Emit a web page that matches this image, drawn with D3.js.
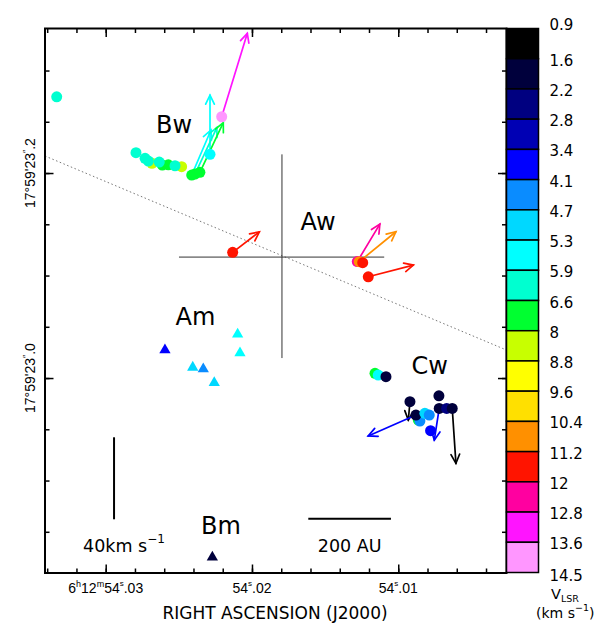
<!DOCTYPE html>
<html><head><meta charset="utf-8">
<script src="https://cdn.jsdelivr.net/npm/d3@7"></script>
<style>
body{margin:0;background:#fff}
svg{display:block}
text{font-family:"DejaVu Sans",sans-serif;fill:#000}
.tick text{display:none}
</style>
</head><body>
<svg id="chart" width="598" height="625"></svg>
<script>
// ---------------- DATA ----------------
// colour bar: V_LSR bin edges (km/s) and bin colours
const binEdges = [0.9,1.6,2.2,2.8,3.4,4.1,4.7,5.3,5.9,6.6,8,8.8,9.6,10.4,11.2,12,12.8,13.6,14.5];
const binColors = ["#000000","#00003c","#000080","#0000b4","#0000ff","#0a8cff","#00d8ff","#00ffff","#00ffd0",
                   "#00ff30","#c8ff00","#ffff00","#ffe000","#ff9000","#ff1400","#ff00a0","#ff14ff","#ff96ff"];

// axes: RA (seconds of time, 6h12m) and Dec (arcsec, 17d59m)
const raDomain = [54.03415, 54.0026];
const decDomain = [22.8098, 23.3410];
const raMajor = [54.03, 54.02, 54.01];
const decMajor = [23.0, 23.2];
const raMinorStep = 0.002, decMinorStep = 0.05;

// water masers (circles): [RA s, Dec arcsec, V_LSR]
const masersBw = [
  [54.03335, 23.2744, 6.3],
  [54.02684, 23.2095, 8.4],
  [54.02481, 23.2062, 8.4],
  [54.02613, 23.2078, 7.3],
  [54.02572, 23.2080, 7.3],
  [54.02793, 23.2198, 6.3],
  [54.02731, 23.2144, 6.3],
  [54.02708, 23.2117, 6.3],
  [54.02634, 23.2107, 6.3],
  [54.02526, 23.2071, 6.3],
  [54.02412, 23.1980, 7.3],
  [54.02390, 23.1990, 7.3],
  [54.02356, 23.2007, 7.3],
  [54.02287, 23.2182, 5.6],
  [54.02207, 23.2549, 14.0]
];
const masersAw = [
  [54.02132, 23.1226, 11.6],
  [54.01280, 23.1136, 12.4],
  [54.01267, 23.1135, 10.8],
  [54.01243, 23.1125, 11.6],
  [54.01205, 23.0988, 11.6]
];
const masersCw = [
  [54.01159, 23.0046, 7.3],
  [54.01137, 23.0029, 5.6],
  [54.01084, 23.0013, 1.9],
  [54.00920, 22.9769, 1.9],
  [54.00863, 22.9590, 7.3],
  [54.00852, 22.9581, 4.4],
  [54.00879, 22.9639, 1.9],
  [54.00818, 22.9656, 5.0],
  [54.00788, 22.9639, 4.4],
  [54.00779, 22.9486, 3.7],
  [54.00722, 22.9827, 1.9],
  [54.00720, 22.9704, 1.9],
  [54.00669, 22.9704, 2.5],
  [54.00631, 22.9704, 1.9]
];
// methanol masers (triangles): [RA s, Dec arcsec, V_LSR]
const methanolAm = [
  [54.02595, 23.0273, 3.6],
  [54.02405, 23.0104, 5.0],
  [54.02333, 23.0088, 4.4],
  [54.02258, 22.9954, 5.0],
  [54.02098, 23.0426, 5.6],
  [54.02082, 23.0244, 5.6]
];
const methanolBm = [
  [54.02271, 22.8251, 1.9]
];
// proper motions: [RA s, Dec arcsec, v_east km/s, v_north km/s, V_LSR]
const motions = [
  [54.02207, 23.2549, -12.5, 40.7, 13.2],
  [54.02287, 23.2182, 0.0, 28.9, 5.6],
  [54.02412, 23.1980, -9.4, 22.0, 5.6],
  [54.02390, 23.1990, -10.7, 22.7, 6.2],
  [54.02356, 23.2007, -11.4, 24.2, 7.3],
  [54.02132, 23.1226, -13.0, 10.0, 11.6],
  [54.01280, 23.1136, -11.0, 18.3, 12.4],
  [54.01267, 23.1135, -17.9, 14.6, 10.8],
  [54.01205, 23.0988, -22.0, 5.7, 11.6],
  [54.00920, 22.9769, 0.8, -8.9, 1.5],
  [54.00879, 22.9639, 23.3, -10.2, 3.7],
  [54.00720, 22.9704, 2.4, -15.5, 3.7],
  [54.00631, 22.9704, -1.8, -26.8, 1.2]
];
// region labels: [text, RA, Dec]
const regionLabels = [
  ["Bw", 54.02656, 23.2390],
  ["Aw", 54.01668, 23.1444],
  ["Am", 54.02523, 23.0517],
  ["Cw", 54.00909, 23.0044],
  ["Bm", 54.02349, 22.8483]
];
// reference lines
const dividingLine = [[54.03415, 23.2166], [54.0026, 23.0273]];
const crossCenter = [54.01795, 23.1180];
const crossRA = [54.02499, 54.01096];
const crossDec = [23.2182, 23.0195];
// scale bars
const velBar = {ra: 54.02943, dec: 22.8622, kms: 40};
const auBar = {ra: 54.01615, dec: 22.8628, au: 200, distPc: 2480};

// ---------------- DRAW ----------------
const svg = d3.select("#chart");
const plot = {left: 45, right: 506.5, top: 28.5, bottom: 573};
const x = d3.scaleLinear().domain(raDomain).range([plot.left, plot.right]);
const y = d3.scaleLinear().domain(decDomain).range([plot.bottom, plot.top]);
const vScale = d3.scaleLinear().domain([0, 40]).range([0, 82]);
const color = d3.scaleThreshold().domain(binEdges.slice(1, -1)).range(binColors);

// dividing dotted line
svg.append("line")
  .attr("x1", x(dividingLine[0][0])).attr("y1", y(dividingLine[0][1]))
  .attr("x2", x(dividingLine[1][0])).attr("y2", y(dividingLine[1][1]))
  .attr("stroke", "#777").attr("stroke-width", 1).attr("stroke-dasharray", "1.5,2.5");

// cross
svg.append("line").attr("x1", x(crossRA[0])).attr("x2", x(crossRA[1]))
  .attr("y1", y(crossCenter[1])).attr("y2", y(crossCenter[1]))
  .attr("stroke", "#333").attr("stroke-width", 1);
svg.append("line").attr("x1", x(crossCenter[0])).attr("x2", x(crossCenter[0]))
  .attr("y1", y(crossDec[0])).attr("y2", y(crossDec[1]))
  .attr("stroke", "#333").attr("stroke-width", 1);

// arrows (proper motions)
const arrowG = svg.append("g").attr("fill", "none").attr("stroke-width", 1.7).attr("stroke-linecap", "round");
motions.forEach(([ra, dec, ve, vn, v]) => {
  const x0 = x(ra), y0 = y(dec);
  const x1 = x0 - vScale(ve), y1 = y0 - vScale(vn);
  const ang = Math.atan2(y1 - y0, x1 - x0);
  const hl = 10, ha = 0.45;
  const c = color(v);
  arrowG.append("line").attr("x1", x0).attr("y1", y0).attr("x2", x1).attr("y2", y1).attr("stroke", c);
  arrowG.append("path")
    .attr("d", `M${x1 - hl*Math.cos(ang - ha)},${y1 - hl*Math.sin(ang - ha)}L${x1},${y1}L${x1 - hl*Math.cos(ang + ha)},${y1 - hl*Math.sin(ang + ha)}`)
    .attr("stroke", c);
});

// circles
[masersBw, masersAw, masersCw].forEach(arr => {
  svg.append("g").selectAll("circle").data(arr).join("circle")
    .attr("cx", d => x(d[0])).attr("cy", d => y(d[1])).attr("r", 5.5)
    .attr("fill", d => color(d[2]));
});
// triangles
const tri = d3.symbol().type(d3.symbolTriangle).size(55);
[methanolAm, methanolBm].forEach(arr => {
  svg.append("g").selectAll("path").data(arr).join("path")
    .attr("d", tri).attr("transform", d => `translate(${x(d[0])},${y(d[1])})`)
    .attr("fill", d => color(d[2]));
});

// region labels
svg.append("g").selectAll("text").data(regionLabels).join("text")
  .attr("x", d => x(d[1])).attr("y", d => y(d[2]))
  .attr("font-size", 24).text(d => d[0]);

// velocity scale bar
const vbx = x(velBar.ra), vby = y(velBar.dec);
svg.append("line").attr("x1", vbx).attr("x2", vbx).attr("y1", vby).attr("y2", vby - vScale(velBar.kms))
  .attr("stroke", "#000").attr("stroke-width", 2);
const vt = svg.append("text").attr("x", vbx - 31).attr("y", vby + 32.5).attr("font-size", 17.5);
vt.append("tspan").text(velBar.kms + "km s");
vt.append("tspan").attr("font-size", 12).attr("dy", -9).text("−1");

// AU scale bar
const auArcsec = auBar.au / auBar.distPc;
const auLen = y(auBar.dec) - y(auBar.dec + auArcsec);
const abx = x(auBar.ra), aby = y(auBar.dec);
svg.append("line").attr("x1", abx).attr("x2", abx + auLen).attr("y1", aby).attr("y2", aby)
  .attr("stroke", "#000").attr("stroke-width", 2);
svg.append("text").attr("x", abx + auLen/2).attr("y", aby + 33).attr("text-anchor", "middle")
  .attr("font-size", 17.5).text(auBar.au + " AU");

// axes ticks (inward)
const rnd = v => Math.round(v * 1e6) / 1e6;
const raMinor = d3.range(Math.ceil(raDomain[1]/raMinorStep), Math.floor(raDomain[0]/raMinorStep) + 1).map(i => rnd(i*raMinorStep));
const decMinor = d3.range(Math.ceil(decDomain[0]/decMinorStep), Math.floor(decDomain[1]/decMinorStep) + 1).map(i => rnd(i*decMinorStep));
function addAxis(axisFn, scale, vals, size, tr) {
  const g = svg.append("g").attr("transform", tr)
    .call(axisFn(scale).tickValues(vals).tickSize(-size).tickFormat(""));
  g.select(".domain").remove();
  g.selectAll(".tick line").attr("stroke", "#000").attr("stroke-width", 1.5);
}
[[raMinor, 4.5], [raMajor, 8.5]].forEach(([vals, s]) => {
  addAxis(d3.axisBottom, x, vals, s, `translate(0,${plot.bottom})`);
  addAxis(d3.axisTop, x, vals, s, `translate(0,${plot.top})`);
});
[[decMinor, 4.5], [decMajor, 8.5]].forEach(([vals, s]) => {
  addAxis(d3.axisLeft, y, vals, s, `translate(${plot.left},0)`);
  addAxis(d3.axisRight, y, vals, s, `translate(${plot.right},0)`);
});

// frame
svg.append("rect").attr("x", plot.left).attr("y", plot.top)
  .attr("width", plot.right - plot.left).attr("height", plot.bottom - plot.top)
  .attr("fill", "none").attr("stroke", "#000").attr("stroke-width", 2);

// x tick labels
const tickFont = "'Liberation Sans', Arial, sans-serif";
raMajor.forEach((v, i) => {
  const t = svg.append("text").attr("x", x(v)).attr("y", plot.bottom + 20)
    .attr("text-anchor", "middle").attr("font-size", 14).style("font-family", tickFont);
  const sec = Math.floor(v), frac = (v - sec).toFixed(2).slice(2);
  if (i === 0) {
    t.append("tspan").text("6");
    t.append("tspan").attr("font-size", 9).attr("dy", -6).text("h");
    t.append("tspan").attr("dy", 6).text("12");
    t.append("tspan").attr("font-size", 9).attr("dy", -6).text("m");
    t.append("tspan").attr("dy", 6).text(String(sec));
  } else {
    t.append("tspan").text(String(sec));
  }
  t.append("tspan").attr("font-size", 8).attr("dy", -7).text("s");
  t.append("tspan").attr("dy", 7).text("." + frac);
});
// y tick labels
decMajor.forEach(v => {
  const t = svg.append("text").attr("transform", `translate(${plot.left - 10},${y(v)}) rotate(-90)`)
    .attr("text-anchor", "middle").attr("font-size", 14).style("font-family", tickFont);
  const sec = Math.floor(v), frac = Math.round((v - sec) * 10);
  t.append("tspan").text("17°59'" + sec);
  t.append("tspan").attr("font-size", 9).attr("dy", -6).text("\u2033");
  t.append("tspan").attr("dy", 6).text("." + frac);
});
// x axis title
svg.append("text").attr("x", 275).attr("y", 619).attr("text-anchor", "middle")
  .attr("font-size", 17).text("RIGHT ASCENSION (J2000)");

// colour bar
const cb = d3.scalePoint().domain(binEdges).range([plot.top, plot.bottom - 0.5]);
const cbX = plot.right, cbW = 32;
svg.append("g").selectAll("rect").data(binColors).join("rect")
  .attr("x", cbX).attr("width", cbW)
  .attr("y", (c, i) => cb(binEdges[i]))
  .attr("height", (c, i) => cb(binEdges[i + 1]) - cb(binEdges[i]))
  .attr("fill", c => c).attr("stroke", "#000").attr("stroke-width", 1.5);
svg.append("g").selectAll("text").data(binEdges).join("text")
  .attr("x", cbX + cbW + 11)
  .attr("y", (v, i) => cb(v) + (i === 0 ? -4 : i === binEdges.length - 1 ? 3 : 2))
  .attr("dominant-baseline", "central").attr("font-size", 15).text(v => String(v));
const vl = svg.append("text").attr("x", 551).attr("y", 599).attr("font-size", 14.5);
vl.append("tspan").text("V");
vl.append("tspan").attr("font-size", 9.5).attr("dy", 3).text("LSR");
const ku = svg.append("text").attr("x", 536).attr("y", 618).attr("font-size", 14);
ku.append("tspan").text("(km s");
ku.append("tspan").attr("font-size", 9.5).attr("dy", -7).text("−1");
ku.append("tspan").attr("dy", 7).text(")");
</script>
</body></html>
